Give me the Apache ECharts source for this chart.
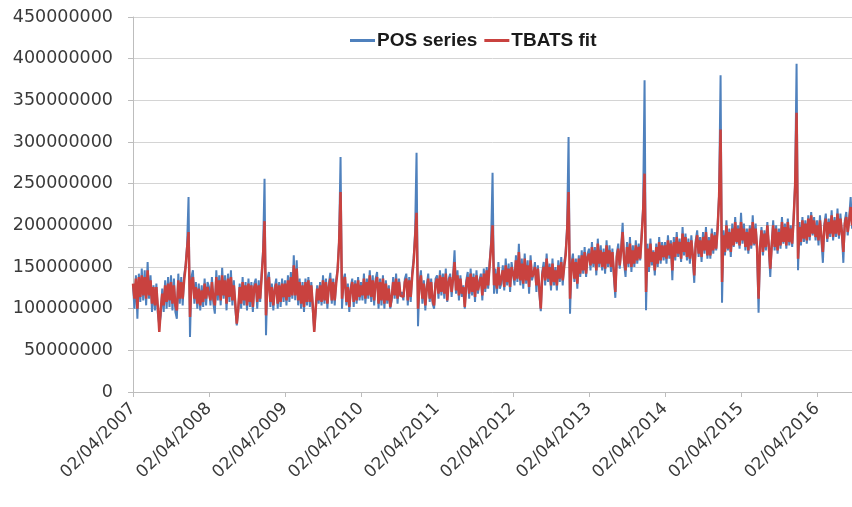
<!DOCTYPE html>
<html>
<head>
<meta charset="utf-8">
<script src="https://cdn.jsdelivr.net/npm/echarts@6/dist/echarts.min.js"></script>
<style>
  html, body { margin: 0; padding: 0; background: #ffffff; }
  #chart { width: 852px; height: 507px; }
</style>
</head>
<body>
<div id="chart"></div>
<script>
// Weekly point-of-sale totals (millions), one array per sales year starting 02/04.
// Index 38 of each year falls on the Christmas week peak.
const pos2007 = [128,100,140,88,142,108,148,110,146,104, 156,112,140,96,128,98,130,94,80,92, 124,96,134,100,138,102,140,98,136,96, 88,142,106,138,104,140,152,176,234,66, 138,146,106,132,100,130,98,128,102,136, 104,132];
const pos2008 = [126,104,138,106,94,146,110,140,104,149, 112,140,98,142,108,146,104,134,100,80, 96,130,100,138,104,132,98,136,102,132, 96,130,136,100,134,108,142,170,256,68, 136,144,102,130,98,126,136,100,132,102, 136,108];
const pos2009 = [134,104,140,108,144,112,164,110,158,104, 136,100,132,96,136,104,138,102,132,98, 74,96,128,106,132,104,140,106,136,100, 130,143,106,136,104,134,148,182,282,100, 134,142,104,130,96,126,136,102,134,106, 138,110];
const pos2010 = [132,110,142,106,136,112,146,108,140,104, 136,144,100,136,104,140,100,134,106,128, 100,110,138,112,142,106,136,114,120,110, 136,142,104,138,108,144,160,192,287,79, 132,146,106,134,98,128,142,108,136,106, 100,136];
const pos2011 = [140,112,146,116,142,112,148,108,136,142, 114,140,170,118,146,110,140,114,128,100, 134,144,112,148,116,142,108,146,118,134, 142,110,148,120,150,124,156,180,263,118, 148,118,156,124,130,152,122,160,128,154, 120,156];
const pos2012 = [156,128,164,132,178,128,160,124,166,130, 158,118,164,134,142,156,120,152,118,97, 144,156,128,166,132,154,122,160,128,150, 122,158,132,162,128,154,168,198,306,94, 154,166,132,160,124,164,138,170,142,174, 138,166];
const pos2013 = [172,146,180,150,174,140,184,150,176,146, 172,142,182,150,176,144,172,138,113,166, 178,148,174,203,154,138,180,150,186,144, 176,150,182,154,178,158,190,222,374,98, 178,144,184,152,170,140,178,150,186,154, 180,158];
const pos2014 = [180,154,188,160,182,134,186,158,192,162, 184,156,198,164,190,158,184,154,188,160, 131,182,194,162,186,156,192,166,198,160, 186,160,196,166,192,170,200,238,380,107, 194,164,206,170,196,162,202,174,210,178, 200,172];
const pos2015 = [215,178,202,170,196,166,200,172,212,176, 202,168,95,172,198,164,194,170,204,172, 138,178,206,170,200,166,196,172,210,178, 202,172,208,176,200,174,210,252,394,146, 204,176,210,180,206,178,212,182,216,188, 210,182];
const pos2016 = [206,176,212,182,155,202,214,180,208,186, 218,182,210,186,220,184,214,190,155,206, 216,188,210,234,196];

// TBATS fitted values (millions), same weeks.
const fit2007 = [130,112,136,100,138,114,140,116,138,112, 146,116,134,106,126,104,126,102,72,100, 118,104,128,108,130,110,132,106,128,104, 98,134,112,132,112,134,150,172,192,90, 132,138,112,126,106,124,104,122,108,130, 112,126];
const fit2008 = [124,110,132,112,104,138,116,134,110,140, 116,134,106,136,114,138,110,128,106,82, 100,126,106,132,110,128,104,130,108,128, 102,126,130,108,128,112,138,164,205,92, 130,138,108,126,104,122,130,106,128,108, 130,114];
const fit2009 = [130,110,134,114,138,116,152,116,148,110, 132,106,128,102,132,108,134,108,128,104, 72,100,124,110,128,108,134,110,132,106, 126,136,110,132,110,130,146,178,240,112, 130,138,108,126,102,122,132,108,130,110, 134,114];
const fit2010 = [128,116,136,112,132,116,140,114,134,110, 132,138,106,132,110,136,106,130,110,124, 102,114,132,116,136,112,132,116,118,114, 132,136,110,134,114,138,156,184,215,100, 128,140,112,130,104,124,136,112,132,110, 104,130];
const fit2011 = [136,118,140,120,138,118,142,110,132,138, 120,136,156,122,140,116,136,118,126,102, 130,138,118,142,120,138,114,140,122,130, 138,116,142,124,146,128,152,174,200,128, 142,124,150,128,130,146,126,152,132,148, 126,150];
const fit2012 = [150,134,158,136,168,134,154,130,160,134, 152,126,158,138,142,150,128,148,124,100, 140,150,134,160,136,150,128,154,132,146, 128,152,136,156,134,150,164,192,240,112, 150,160,136,156,130,160,142,164,146,168, 142,162];
const fit2013 = [166,152,174,154,170,146,178,154,170,150, 168,148,176,154,170,150,168,144,120,162, 172,152,170,192,158,146,174,154,178,150, 170,154,176,158,174,160,186,216,262,120, 172,150,178,156,168,146,174,154,180,158, 176,162];
const fit2014 = [176,160,182,164,178,146,180,162,186,166, 180,160,190,168,186,162,180,160,182,164, 140,178,188,166,182,162,186,170,192,164, 182,164,190,170,188,172,196,234,315,132, 188,168,200,172,192,168,196,176,204,180, 196,176];
const fit2015 = [204,182,196,174,192,170,196,176,204,178, 196,172,112,174,194,168,190,174,200,176, 148,176,200,174,196,170,192,176,204,180, 198,176,204,180,196,178,208,246,335,160, 198,180,206,184,202,182,208,186,212,190, 206,186];
const fit2016 = [200,182,206,186,168,198,208,184,204,190, 212,186,206,190,214,188,208,192,168,202, 210,192,206,222,200];

const yearLabels = ['02/04/2007','02/04/2008','02/04/2009','02/04/2010','02/04/2011',
                    '02/04/2012','02/04/2013','02/04/2014','02/04/2015','02/04/2016'];

const posYears = [pos2007,pos2008,pos2009,pos2010,pos2011,pos2012,pos2013,pos2014,pos2015,pos2016];
const fitYears = [fit2007,fit2008,fit2009,fit2010,fit2011,fit2012,fit2013,fit2014,fit2015,fit2016];

// x = years elapsed since 02/04/2007 (52 weekly samples per year), y = value in units
function toPoints(years) {
  const out = [];
  years.forEach((arr, k) => {
    arr.forEach((v, w) => out.push([k + w / 52, v * 1e6]));
  });
  return out;
}

const axisFont = 'DejaVu Sans';
const chart = echarts.init(document.getElementById('chart'), null, { renderer: 'canvas' });

chart.setOption({
  animation: false,
  backgroundColor: '#ffffff',
  grid: { left: 133, right: 0, top: 17, bottom: 115, containLabel: false },
  legend: {
    left: 345,
    top: 26,
    itemGap: 7,
    itemWidth: 25,
    itemHeight: 3,
    icon: 'rect',
    textStyle: { fontFamily: 'Liberation Sans', fontWeight: 'bold', fontSize: 19, color: '#1a1a1a', padding: [0, 0, 0, -3] },
    data: ['POS series', 'TBATS fit']
  },
  xAxis: {
    type: 'value',
    min: 0,
    max: 9.46,
    interval: 1,
    splitLine: { show: false },
    axisLine: { show: true, lineStyle: { color: '#bdbdbd', width: 1 } },
    axisTick: { show: true, length: 5, lineStyle: { color: '#bdbdbd' } },
    axisLabel: {
      rotate: 45,
      margin: 14,
      fontFamily: axisFont,
      fontSize: 17,
      color: '#3a3a3a',
      showMaxLabel: false,
      formatter: v => (Number.isInteger(v) && yearLabels[v]) ? yearLabels[v] : ''
    }
  },
  yAxis: {
    type: 'value',
    min: 0,
    max: 450000000,
    interval: 50000000,
    axisLine: { show: true, lineStyle: { color: '#bdbdbd', width: 1 } },
    axisTick: { show: true, length: 5, lineStyle: { color: '#bdbdbd' } },
    splitLine: { show: true, lineStyle: { color: '#d4d4d4', width: 1 } },
    axisLabel: {
      margin: 20,
      fontFamily: axisFont,
      fontSize: 17.5,
      color: '#3a3a3a',
      formatter: v => String(v)
    }
  },
  series: [
    {
      name: 'POS series',
      type: 'line',
      data: toPoints(posYears),
      showSymbol: false,
      symbol: 'none',
      lineStyle: { color: '#4f81bd', width: 2 },
      itemStyle: { color: '#4f81bd' },
      z: 2
    },
    {
      name: 'TBATS fit',
      type: 'line',
      data: toPoints(fitYears),
      showSymbol: false,
      symbol: 'none',
      lineStyle: { color: '#c9423f', width: 2.5 },
      itemStyle: { color: '#c9423f' },
      z: 3
    }
  ]
});
</script>
</body>
</html>
